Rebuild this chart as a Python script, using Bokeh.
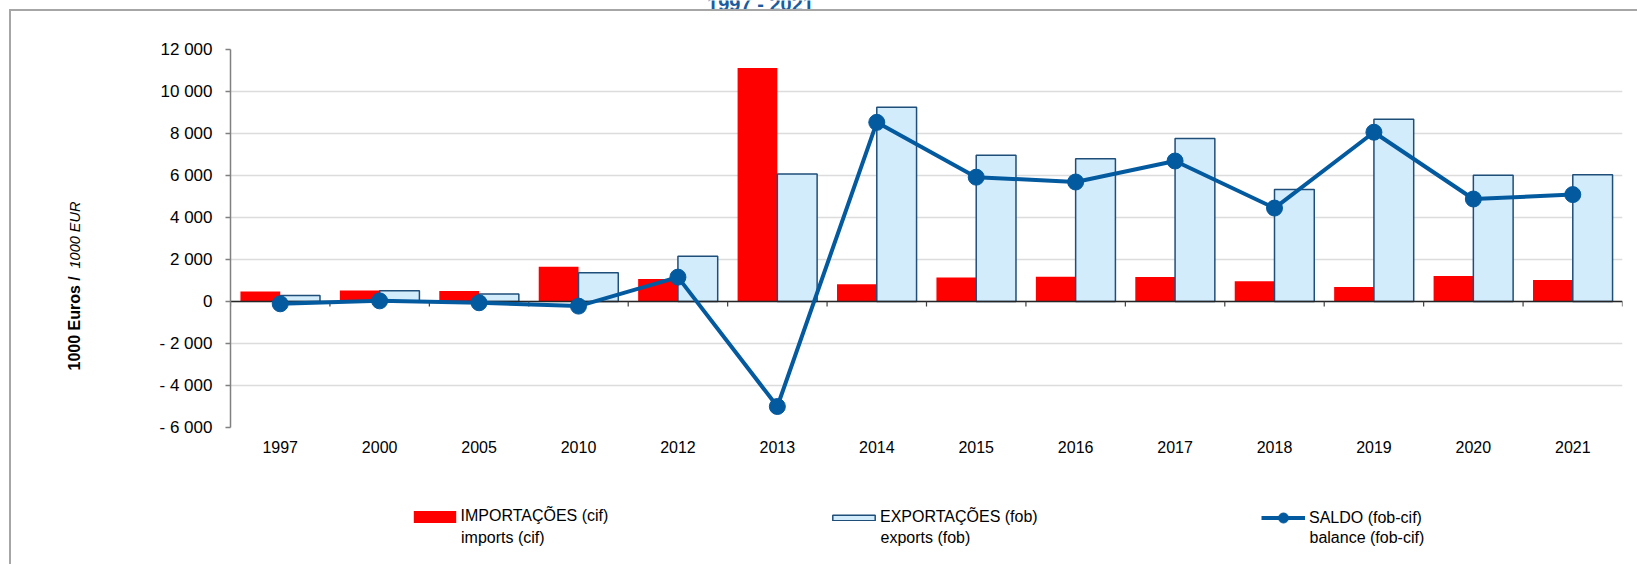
from bokeh.plotting import figure
from bokeh.layouts import column, row
from bokeh.models import (FactorRange, Range1d, Label, Legend, LegendItem,
                          SingleIntervalTicker, ColumnDataSource, InlineStyleSheet)
from bokeh.transform import dodge
from bokeh.embed import file_html
from bokeh.resources import INLINE
import math

# ---------------- data ----------------
years = ["1997", "2000", "2005", "2010", "2012", "2013", "2014",
         "2015", "2016", "2017", "2018", "2019", "2020", "2021"]
imports = [480, 520, 500, 1660, 1070, 11120, 820, 1140, 1180, 1170, 970, 690, 1210, 1020]
exports = [290, 510, 360, 1370, 2150, 6070, 9250, 6960, 6800, 7760, 5330, 8680, 6010, 6030]
balance = [-110, 30, -60, -220, 1160, -5000, 8530, 5920, 5690, 6690, 4450, 8060, 4880, 5090]
y_ticks = list(range(-6000, 12001, 2000))

title_text = "1997 - 2021"
ylabel_bold = "1000 Euros /"
ylabel_ital = "1000 EUR"
leg_first = ["IMPORTAÇÕES (cif)", "EXPORTAÇÕES (fob)", "SALDO (fob-cif)"]
leg_second = ["imports (cif)", "exports (fob)", "balance (fob-cif)"]

FONT = "Liberation Sans"
RED = "#ff0000"
LBLUE = "#d3ecfc"
DBLUE = "#1f4e79"
LINEC = "#045a9e"
TITLEC = "#1a5c9e"

W = 1637
TOP_H = 13
LEFT_W = 148
MAIN_H = 454
LEG_H = 97

border_css = InlineStyleSheet(css="""
:host { position: relative; }
:host::after {
  content: ""; position: absolute; left: 9px; top: 9px; right: 0; bottom: 0;
  border-left: 2px solid #a6a6a6; border-top: 2px solid #a6a6a6;
  pointer-events: none; z-index: 10;
}
""")


def blank_fig(w, h):
    f = figure(width=w, height=h, x_range=Range1d(0, w), y_range=Range1d(h, 0),
               output_backend="svg", toolbar_location=None,
               x_axis_location=None, y_axis_location=None, min_border=0)
    f.grid.visible = False
    f.outline_line_color = None
    f.background_fill_color = "white"
    f.border_fill_color = "white"
    return f


# ---------------- top strip: title (cut off, as in the reference) ----------------
top = blank_fig(W, TOP_H)
top.add_layout(Label(x=760, y=3.5, text=title_text, text_font=FONT, text_font_size="20px",
                     text_font_style="bold", text_color=TITLEC,
                     text_baseline="alphabetic", text_align="center"))

# ---------------- left strip: y axis title ----------------
left = blank_fig(LEFT_W, MAIN_H)
left.add_layout(Label(x=74, y=57, x_units="screen", y_units="screen", text=ylabel_bold,
                      angle=math.pi / 2, text_font=FONT, text_font_size="16px",
                      text_font_style="bold", text_color="black",
                      text_baseline="middle", text_align="left"))
left.add_layout(Label(x=74, y=159, x_units="screen", y_units="screen", text=ylabel_ital,
                      angle=math.pi / 2, text_font=FONT, text_font_size="14.5px",
                      text_font_style="italic", text_color="black",
                      text_baseline="middle", text_align="left"))

# ---------------- main chart ----------------
src = ColumnDataSource(dict(years=years, imports=imports, exports=exports, balance=balance))
src_end = ColumnDataSource(dict(years=years[-1:]))

p = figure(width=W - LEFT_W, height=MAIN_H, x_range=FactorRange(*years),
           y_range=Range1d(y_ticks[0], y_ticks[-1]),
           output_backend="svg", toolbar_location=None,
           min_border_left=82, min_border_right=15, min_border_top=36, min_border_bottom=40)
p.outline_line_color = None
p.background_fill_color = "white"
p.border_fill_color = "white"

p.xgrid.grid_line_color = None
p.ygrid.grid_line_color = "#dcdcdc"
p.ygrid.grid_line_width = 1.5

p.yaxis.ticker = SingleIntervalTicker(interval=2000)
p.yaxis.major_label_overrides = {
    v: ("- " if v < 0 else "") + f"{abs(v):,}".replace(",", " ") for v in y_ticks}
p.yaxis.axis_line_color = "#808080"
p.yaxis.axis_line_width = 1.5
p.yaxis.major_tick_line_color = "#808080"
p.yaxis.major_tick_line_width = 1.5
p.yaxis.major_tick_in = 0
p.yaxis.major_tick_out = 5
p.yaxis.minor_tick_line_color = None
p.yaxis.major_label_standoff = 13
p.yaxis.major_label_text_font = FONT
p.yaxis.major_label_text_font_size = "17px"
p.yaxis.major_label_text_color = "black"

p.xaxis.axis_line_color = None
p.xaxis.major_tick_line_color = None
p.xaxis.major_tick_in = 0
p.xaxis.major_tick_out = 0
p.xaxis.minor_tick_line_color = None
p.xaxis.major_label_standoff = 13
p.xaxis.major_label_text_font = FONT
p.xaxis.major_label_text_font_size = "16px"
p.xaxis.major_label_text_color = "black"

p.vbar(x=dodge("years", -0.2, range=p.x_range), top="imports", width=0.4,
       source=src, fill_color=RED, line_color=None)
p.vbar(x=dodge("years", 0.2, range=p.x_range), top="exports", width=0.4,
       source=src, fill_color=LBLUE, line_color=DBLUE, line_width=1.5)

p.hspan(y=[0], line_color="#262626", line_width=1.5)
p.segment(x0=dodge("years", -0.5, range=p.x_range), x1=dodge("years", -0.5, range=p.x_range),
          y0=0, y1=-240, source=src, line_color="#404040", line_width=1.2)
p.segment(x0=dodge("years", 0.5, range=p.x_range), x1=dodge("years", 0.5, range=p.x_range),
          y0=0, y1=-240, source=src_end, line_color="#404040", line_width=1.2)

p.line(x="years", y="balance", source=src, line_color=LINEC, line_width=4)
p.scatter(x="years", y="balance", source=src, size=16, fill_color=LINEC, line_color=LINEC)

# ---------------- legend strip ----------------
lg = blank_fig(W, LEG_H)
proxy = ColumnDataSource(dict(x=[0], y=[0]))
g_imp = lg.vbar(x="x", top="y", width=1, source=proxy, fill_color=RED, line_color=None,
                visible=False)
g_exp = lg.vbar(x="x", top="y", width=1, source=proxy, fill_color=LBLUE,
                line_color=DBLUE, line_width=1.5, visible=False)
g_line = lg.line(x="x", y="y", source=proxy, line_color=LINEC, line_width=4, visible=False)
g_pts = lg.scatter(x="x", y="y", source=proxy, size=10, fill_color=LINEC, line_color=LINEC,
                   visible=False)


def mk_legend(label, rends, loc, gw, gh, standoff):
    return Legend(items=[LegendItem(label=label, renderers=rends)], location=loc,
                  orientation="horizontal", padding=0, margin=0, spacing=0,
                  label_standoff=standoff, glyph_width=gw, glyph_height=gh,
                  border_line_color=None, background_fill_alpha=0,
                  label_text_font=FONT, label_text_font_size="16px",
                  label_text_color="black")


lg.add_layout(mk_legend(leg_first[0], [g_imp], (407.5, 39), 53, 15, 0))
lg.add_layout(mk_legend(leg_first[1], [g_exp], (827, 38), 53, 7, 0))
lg.add_layout(mk_legend(leg_first[2], [g_line, g_pts], (1261, 34), 44, 25, 4))

for txt, xx in zip(leg_second, [460.5, 880, 1309]):
    lg.add_layout(Label(x=xx, y=70.3, text=txt, text_font=FONT, text_font_size="16px",
                        text_color="black", text_baseline="middle", text_align="left"))

layout = column(top, row(left, p, spacing=0), lg, spacing=0, stylesheets=[border_css])

open("out.html", "w").write(file_html(layout, INLINE))
